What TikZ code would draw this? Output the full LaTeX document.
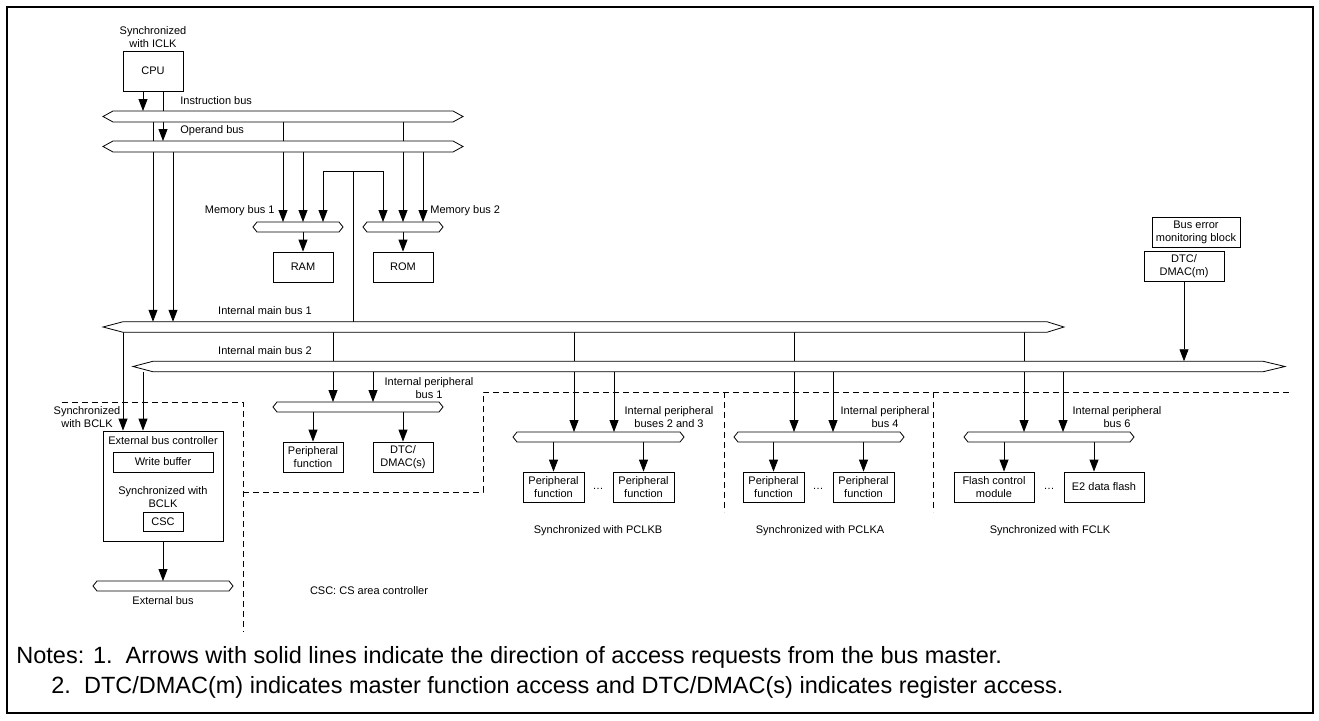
\documentclass[tikz,border=0pt]{standalone}
\usepackage{fontspec}
\setmainfont{Liberation Sans}
\usetikzlibrary{arrows.meta}
\newcommand\busLR[3]{%
  \draw[busline] (#1.north west) -- (#1.north east) -- ([xshift=#3]#1.east) -- (#1.south east) -- (#1.south west) -- ([xshift=-#2]#1.west) -- cycle;}
\begin{document}
\begin{tikzpicture}[x=1pt,y=-1pt, line width=0.8pt,
  lbl/.style={font=\fontsize{11}{13}\selectfont, inner sep=0pt, align=center},
  box/.style={draw, fill=white, inner sep=0pt, font=\fontsize{11}{13}\selectfont, align=center},
  busn/.style={inner sep=0pt, outer sep=0pt},
  arr/.style={-{Triangle[length=12pt,width=9pt]}},
  dsh/.style={dash pattern=on 6pt off 4pt},
  busline/.style={draw, fill=white, line join=miter},
  note/.style={font=\fontsize{23.5}{28}\selectfont, inner sep=0pt, anchor=west}]

\useasboundingbox (0,0) rectangle (1319,720);
\draw[line width=2.5pt] (7,7) rectangle (1313,713);

% bus nodes (outlines drawn later)
\node[busn, minimum width=340pt, minimum height=11pt] (ib) at (283,116.5) {};
\node[busn, minimum width=340pt, minimum height=11pt] (ob) at (283,146.5) {};
\node[busn, minimum width=82pt, minimum height=10pt] (mb1) at (298,227) {};
\node[busn, minimum width=72pt, minimum height=10pt] (mb2) at (403,227) {};
\node[busn, minimum width=924pt, minimum height=10.5pt] (imb1) at (585,327) {};
\node[busn, minimum width=1110pt, minimum height=10.5pt] (imb2) at (708,366.5) {};
\node[busn, minimum width=162pt, minimum height=10pt] (pb1) at (358,407) {};
\node[busn, minimum width=163pt, minimum height=10pt] (pb23) at (598.5,437) {};
\node[busn, minimum width=162pt, minimum height=10pt] (pb4) at (819,437) {};
\node[busn, minimum width=162pt, minimum height=10pt] (pb6) at (1049,437) {};
\node[busn, minimum width=132pt, minimum height=10pt] (extb) at (163,586) {};

% boxes
\node[box, minimum width=60pt, minimum height=40pt] (cpu) at (153,71) {CPU};
\node[box, minimum width=60pt, minimum height=30pt] (ram) at (303,267) {RAM};
\node[box, minimum width=60pt, minimum height=30pt] (rom) at (403,267) {ROM};
\node[box, minimum width=88pt, minimum height=30pt] (bemb) at (1196,232) {Bus error\\monitoring block};
\node[box, minimum width=80pt, minimum height=30pt] (dtcm) at (1184,266) {DTC/\\DMAC(m)};
\node[box, minimum width=120pt, minimum height=110pt] (ebc) at (163,486) {};
\node[box, minimum width=100pt, minimum height=20pt] (wb) at (163,462) {Write buffer};
\node[box, minimum width=40pt, minimum height=19pt] (csc) at (163,521.5) {CSC};
\node[box, minimum width=60pt, minimum height=30pt] (pf1) at (313,457) {Peripheral\\function};
\node[box, minimum width=60pt, minimum height=30pt] (dtcs) at (403,457) {DTC/\\DMAC(s)};
\node[box, minimum width=61pt, minimum height=30pt] (pfa) at (553.5,487) {Peripheral\\function};
\node[box, minimum width=61pt, minimum height=30pt] (pfb) at (643.5,487) {Peripheral\\function};
\node[box, minimum width=61pt, minimum height=30pt] (pfc) at (773.5,487) {Peripheral\\function};
\node[box, minimum width=61pt, minimum height=30pt] (pfd) at (863.5,487) {Peripheral\\function};
\node[box, minimum width=80pt, minimum height=30pt] (fcm) at (994,487) {Flash control\\module};
\node[box, minimum width=80pt, minimum height=30pt] (e2) at (1104,487) {E2 data flash};

% dashed region borders
\draw[dsh] (62,402) -- (243,402) -- (243,632);
\draw[dsh] (243,492) -- (483,492) -- (483,392) -- (1290,392);
\draw[dsh] (724,392) -- (724,512);
\draw[dsh] (933,392) -- (933,512);

% connectors
\draw[arr] (143,0 |- cpu.south) -- (143,0 |- ib.north);
\draw[arr] (163,0 |- cpu.south) -- (163,0 |- ob.north);
\foreach \x in {153,283,403} \draw (\x,0 |- ib.south) -- (\x,0 |- ob.north);
\foreach \x in {153,173} \draw[arr] (\x,0 |- ob.south) -- (\x,0 |- imb1.north);
\foreach \x in {283,303} \draw[arr] (\x,0 |- ob.south) -- (\x,0 |- mb1.north);
\foreach \x in {403,423} \draw[arr] (\x,0 |- ob.south) -- (\x,0 |- mb2.north);
\coordinate (tj) at (353,171);
\draw (353,0 |- imb1.north) -- (tj);
\draw[arr] (tj) -| (323,0 |- mb1.north);
\draw[arr] (tj) -| (383,0 |- mb2.north);
\draw[arr] (ram.north |- mb1.south) -- (ram.north);
\draw[arr] (rom.north |- mb2.south) -- (rom.north);
\draw[arr] (123,0 |- imb1.south) -- (123,0 |- ebc.north);
\draw[arr] (143,0 |- imb2.south) -- (143,0 |- ebc.north);
\foreach \x in {333,574,794,1024} \draw (\x,0 |- imb1.south) -- (\x,0 |- imb2.north);
\foreach \x in {333,373} \draw[arr] (\x,0 |- imb2.south) -- (\x,0 |- pb1.north);
\foreach \x in {574,614} \draw[arr] (\x,0 |- imb2.south) -- (\x,0 |- pb23.north);
\foreach \x in {794,833} \draw[arr] (\x,0 |- imb2.south) -- (\x,0 |- pb4.north);
\foreach \x in {1024,1063} \draw[arr] (\x,0 |- imb2.south) -- (\x,0 |- pb6.north);
\draw[arr] (pf1.north |- pb1.south) -- (pf1.north);
\draw[arr] (dtcs.north |- pb1.south) -- (dtcs.north);
\draw[arr] (pfa.north |- pb23.south) -- (pfa.north);
\draw[arr] (pfb.north |- pb23.south) -- (pfb.north);
\draw[arr] (pfc.north |- pb4.south) -- (pfc.north);
\draw[arr] (pfd.north |- pb4.south) -- (pfd.north);
\draw[arr] (1004,0 |- pb6.south) -- (1004,0 |- fcm.north);
\draw[arr] (1094,0 |- pb6.south) -- (1094,0 |- e2.north);
\draw[arr] (dtcm.south) -- (dtcm.south |- imb2.north);
\draw[arr] (ebc.south) -- (ebc.south |- extb.north);

% bus outlines
\busLR{ib}{10pt}{10pt}
\busLR{ob}{10pt}{10pt}
\busLR{mb1}{4pt}{4pt}
\busLR{mb2}{4pt}{4pt}
\busLR{imb1}{20pt}{17pt}
\busLR{imb2}{20pt}{22pt}
\busLR{pb1}{4pt}{4pt}
\busLR{pb23}{4pt}{4pt}
\busLR{pb4}{4pt}{4pt}
\busLR{pb6}{4pt}{4pt}
\busLR{extb}{4pt}{4pt}

% labels
\node[lbl] (ticlk) at (153,37) {Synchronized\\with ICLK};
\node[lbl, anchor=west] (tib) at (180,101) {Instruction bus};
\node[lbl, anchor=west] (tob) at (180,131) {Operand bus};
\node[lbl, anchor=east] (tmb1) at (275,211) {Memory bus 1};
\node[lbl, anchor=west] (tmb2) at (430,211) {Memory bus 2};
\node[lbl] (timb1) at (265,311) {Internal main bus 1};
\node[lbl] (timb2) at (265,351) {Internal main bus 2};
\node[lbl] (tpb1) at (429,388) {Internal peripheral\\bus 1};
\node[lbl] (tbclk) at (87,417) {Synchronized\\with BCLK};
\node[lbl] (tebc) at (163,441) {External bus controller};
\node[lbl] (tsyb) at (163,497) {Synchronized with\\BCLK};
\node[lbl] (textb) at (163,601) {External bus};
\node[lbl] (tcsc) at (369,591) {CSC: CS area controller};
\node[lbl] (tpb23) at (669,417) {Internal peripheral\\buses 2 and 3};
\node[lbl] (tpb4) at (885,417) {Internal peripheral\\bus 4};
\node[lbl] (tpb6) at (1117,417) {Internal peripheral\\bus 6};
\node[lbl] (d1) at (598,489) {\dots};
\node[lbl] (d2) at (818,489) {\dots};
\node[lbl] (d3) at (1049,489) {\dots};
\node[lbl] (sb) at (598,531) {Synchronized with PCLKB};
\node[lbl] (sa) at (820,531) {Synchronized with PCLKA};
\node[lbl] (sf) at (1050,531) {Synchronized with FCLK};

% notes
\node[note] (n1) at (16,657) {Notes: 1.\ \ Arrows with solid lines indicate the direction of access requests from the bus master.};
\node[note] (n2) at (51,687) {2.\ \ DTC/DMAC(m) indicates master function access and DTC/DMAC(s) indicates register access.};
\end{tikzpicture}
\end{document}
